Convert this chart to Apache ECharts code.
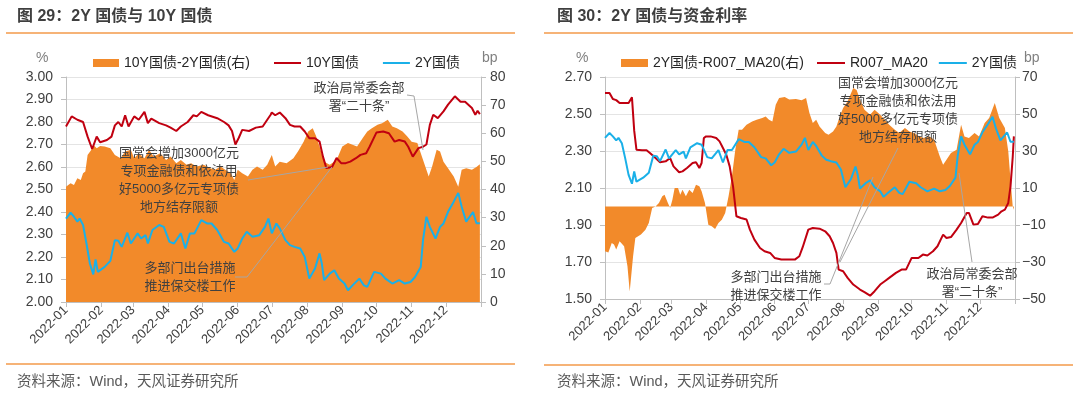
<!DOCTYPE html>
<html>
<head>
<meta charset="utf-8">
<script src="https://cdn.jsdelivr.net/npm/echarts@6/dist/echarts.min.js"></script>
<style>
html,body{margin:0;padding:0;background:#fff;}
#main{width:1080px;height:396px;}
</style>
</head>
<body>
<div id="main"></div>
<script>
var FONT = "'Liberation Sans','Noto Sans CJK SC',sans-serif";
var ORANGE = '#F28A2A', RED = '#C00010', BLUE = '#1AB0E8';
var AXIS = '#BFBFBF', GRIDC = '#E4E4E4', TXT = '#404040', RULE = '#F39A4A';

// ticks of the four y axes
var ticksL1 = [2.0, 2.1, 2.2, 2.3, 2.4, 2.5, 2.6, 2.7, 2.8, 2.9, 3.0];
var ticksL2 = [0, 10, 20, 30, 40, 50, 60, 70, 80];
var ticksR1 = [1.5, 1.7, 1.9, 2.1, 2.3, 2.5, 2.7];
var ticksR2 = [-50, -30, -10, 10, 30, 50, 70];

// 10Y government bond yield, %
var cgb10y = [
  ['2022-01-01',2.78],['2022-01-06',2.825],['2022-01-11',2.81],['2022-01-16',2.80],['2022-01-20',2.735],
  ['2022-01-24',2.68],['2022-01-28',2.735],['2022-01-31',2.71],['2022-02-06',2.72],['2022-02-10',2.735],
  ['2022-02-13',2.785],['2022-02-16',2.80],['2022-02-19',2.78],['2022-02-22',2.83],['2022-02-25',2.78],
  ['2022-03-02',2.825],['2022-03-06',2.81],['2022-03-11',2.845],['2022-03-14',2.795],['2022-03-17',2.815],
  ['2022-03-24',2.795],['2022-03-30',2.785],['2022-04-03',2.775],['2022-04-08',2.76],['2022-04-12',2.78],
  ['2022-04-18',2.80],['2022-04-23',2.83],['2022-04-26',2.825],['2022-04-30',2.845],['2022-05-06',2.83],
  ['2022-05-14',2.817],['2022-05-20',2.80],['2022-05-24',2.785],['2022-05-27',2.76],['2022-05-30',2.70],
  ['2022-06-02',2.73],['2022-06-05',2.765],['2022-06-11',2.76],['2022-06-17',2.775],['2022-06-23',2.78],
  ['2022-06-27',2.81],['2022-06-30',2.832],['2022-07-01',2.842],['2022-07-04',2.83],['2022-07-08',2.842],
  ['2022-07-13',2.817],['2022-07-17',2.787],['2022-07-21',2.78],['2022-07-26',2.78],['2022-07-30',2.758],
  ['2022-08-03',2.728],['2022-08-08',2.728],['2022-08-12',2.713],['2022-08-15',2.646],['2022-08-18',2.595],
  ['2022-08-23',2.60],['2022-08-27',2.64],['2022-08-31',2.617],['2022-09-04',2.617],['2022-09-08',2.624],
  ['2022-09-13',2.639],['2022-09-17',2.654],['2022-09-22',2.661],['2022-09-25',2.69],['2022-10-01',2.753],
  ['2022-10-07',2.758],['2022-10-12',2.75],['2022-10-17',2.713],['2022-10-21',2.72],['2022-10-26',2.713],
  ['2022-10-29',2.69],['2022-11-02',2.646],['2022-11-07',2.684],['2022-11-11',2.69],['2022-11-14',2.70],
  ['2022-11-17',2.787],['2022-11-20',2.832],['2022-11-24',2.817],['2022-11-29',2.847],['2022-12-03',2.877],
  ['2022-12-09',2.914],['2022-12-14',2.89],['2022-12-18',2.89],['2022-12-24',2.862],['2022-12-27',2.832],
  ['2022-12-29',2.85],['2022-12-31',2.835]
];

// 2Y government bond yield, %
var cgb2y = [
  ['2022-01-01',2.371],['2022-01-05',2.397],['2022-01-08',2.379],['2022-01-11',2.357],['2022-01-13',2.371],
  ['2022-01-16',2.342],['2022-01-19',2.26],['2022-01-22',2.171],['2022-01-25',2.123],['2022-01-27',2.189],
  ['2022-01-29',2.134],['2022-02-04',2.156],['2022-02-09',2.183],['2022-02-13',2.275],['2022-02-16',2.272],
  ['2022-02-19',2.245],['2022-02-24',2.308],['2022-02-27',2.26],['2022-03-05',2.305],['2022-03-08',2.282],
  ['2022-03-12',2.297],['2022-03-14',2.26],['2022-03-18',2.32],['2022-03-24',2.342],['2022-03-28',2.334],
  ['2022-04-02',2.267],['2022-04-06',2.26],['2022-04-12',2.305],['2022-04-16',2.238],['2022-04-20',2.305],
  ['2022-04-24',2.305],['2022-04-30',2.364],['2022-05-05',2.349],['2022-05-09',2.349],['2022-05-14',2.32],
  ['2022-05-20',2.267],['2022-05-24',2.26],['2022-05-29',2.223],['2022-06-01',2.238],['2022-06-05',2.282],
  ['2022-06-09',2.312],['2022-06-14',2.29],['2022-06-20',2.297],['2022-06-25',2.334],['2022-06-28',2.371],
  ['2022-07-01',2.305],['2022-07-05',2.349],['2022-07-08',2.327],['2022-07-13',2.275],['2022-07-17',2.253],
  ['2022-07-21',2.245],['2022-07-26',2.238],['2022-07-30',2.20],['2022-08-03',2.104],['2022-08-08',2.149],
  ['2022-08-12',2.216],['2022-08-14',2.171],['2022-08-16',2.097],['2022-08-21',2.126],['2022-08-25',2.141],
  ['2022-08-29',2.104],['2022-09-03',2.082],['2022-09-06',2.052],['2022-09-10',2.074],['2022-09-16',2.104],
  ['2022-09-20',2.074],['2022-09-23',2.067],['2022-09-29',2.134],['2022-10-05',2.126],['2022-10-09',2.104],
  ['2022-10-15',2.082],['2022-10-21',2.097],['2022-10-26',2.082],['2022-10-31',2.089],['2022-11-04',2.111],
  ['2022-11-09',2.156],['2022-11-11',2.275],['2022-11-14',2.379],['2022-11-17',2.334],['2022-11-22',2.282],
  ['2022-11-26',2.334],['2022-11-29',2.349],['2022-12-03',2.401],['2022-12-08',2.446],['2022-12-12',2.485],
  ['2022-12-15',2.423],['2022-12-19',2.357],['2022-12-22',2.379],['2022-12-25',2.40],['2022-12-28',2.35],
  ['2022-12-31',2.35]
];

// 10Y minus 2Y, bp
var spread10y2y = [
  ['2022-01-01',41],['2022-01-05',42.2],['2022-01-08',41.6],['2022-01-11',44],['2022-01-14',43.4],
  ['2022-01-16',45.8],['2022-01-18',46.4],['2022-01-20',52.3],['2022-01-23',54],['2022-01-25',55.9],
  ['2022-01-28',54.7],['2022-01-31',55.5],['2022-02-04',55.3],['2022-02-09',54.7],['2022-02-13',52.3],
  ['2022-02-18',51.1],['2022-02-22',53.5],['2022-02-27',54.1],['2022-03-02',51.1],['2022-03-06',52.9],
  ['2022-03-11',51.1],['2022-03-15',54.1],['2022-03-19',51.7],['2022-03-25',52.9],['2022-03-30',50.5],
  ['2022-04-03',51.7],['2022-04-08',49.3],['2022-04-12',50.5],['2022-04-17',48.8],['2022-04-21',49.3],
  ['2022-04-26',48.2],['2022-05-02',48.8],['2022-05-08',47.6],['2022-05-12',47],['2022-05-17',48.2],
  ['2022-05-21',47],['2022-05-26',45.8],['2022-05-29',43.4],['2022-06-01',47],['2022-06-05',45.8],
  ['2022-06-10',44.6],['2022-06-14',47],['2022-06-18',48.2],['2022-06-23',47],['2022-06-27',48.8],
  ['2022-07-01',52.3],['2022-07-04',48.2],['2022-07-08',49.9],['2022-07-14',49.3],['2022-07-20',51.1],
  ['2022-07-24',53.5],['2022-07-29',57],['2022-08-02',60.6],['2022-08-06',61.8],['2022-08-09',58.9],
  ['2022-08-12',55.3],['2022-08-16',49.9],['2022-08-21',48.8],['2022-08-27',50.5],['2022-09-01',55.3],
  ['2022-09-06',56.5],['2022-09-10',55.9],['2022-09-14',55.3],['2022-09-19',58.3],['2022-09-23',60.6],
  ['2022-09-27',61.8],['2022-10-02',63],['2022-10-06',63.6],['2022-10-11',64.8],['2022-10-15',62.4],
  ['2022-10-19',61.8],['2022-10-24',60.6],['2022-10-28',58.9],['2022-11-01',57],['2022-11-06',56.5],
  ['2022-11-10',51.7],['2022-11-13',48.2],['2022-11-16',44.6],['2022-11-19',48.2],['2022-11-23',54.1],
  ['2022-11-26',53.5],['2022-11-29',49.9],['2022-12-03',47.6],['2022-12-08',44.6],['2022-12-12',41],
  ['2022-12-15',47],['2022-12-19',47.6],['2022-12-24',47],['2022-12-28',48],['2022-12-31',49]
];

// R007 20-day moving average, %
var r007ma20 = [
  ['2022-01-01',2.614],['2022-01-05',2.614],['2022-01-08',2.581],['2022-01-11',2.575],['2022-01-14',2.559],
  ['2022-01-19',2.559],['2022-01-22',2.559],['2022-01-25',2.59],['2022-01-27',2.41],['2022-01-29',2.307],
  ['2022-02-03',2.304],['2022-02-07',2.304],['2022-02-10',2.289],['2022-02-15',2.262],['2022-02-19',2.239],
  ['2022-02-24',2.244],['2022-02-28',2.262],['2022-03-03',2.217],['2022-03-08',2.185],['2022-03-11',2.19],
  ['2022-03-15',2.208],['2022-03-20',2.235],['2022-03-23',2.239],['2022-03-26',2.208],['2022-03-28',2.235],
  ['2022-03-30',2.37],['2022-04-01',2.379],['2022-04-05',2.379],['2022-04-10',2.37],['2022-04-13',2.352],
  ['2022-04-16',2.316],['2022-04-19',2.28],['2022-04-22',2.217],['2022-04-25',2.109],['2022-04-28',1.947],
  ['2022-05-02',1.938],['2022-05-07',1.93],['2022-05-10',1.875],['2022-05-14',1.821],['2022-05-19',1.776],
  ['2022-05-23',1.758],['2022-05-28',1.749],['2022-06-01',1.722],['2022-06-07',1.713],['2022-06-13',1.713],
  ['2022-06-19',1.713],['2022-06-23',1.731],['2022-06-26',1.78],['2022-07-01',1.875],['2022-07-05',1.884],
  ['2022-07-11',1.88],['2022-07-16',1.866],['2022-07-20',1.839],['2022-07-23',1.803],['2022-07-26',1.749],
  ['2022-07-28',1.659],['2022-08-01',1.65],['2022-08-05',1.614],['2022-08-10',1.578],['2022-08-16',1.551],
  ['2022-08-20',1.537],['2022-08-25',1.518],['2022-08-29',1.542],['2022-09-03',1.578],['2022-09-07',1.596],
  ['2022-09-11',1.614],['2022-09-17',1.641],['2022-09-22',1.659],['2022-09-26',1.659],['2022-10-01',1.722],
  ['2022-10-07',1.722],['2022-10-11',1.74],['2022-10-15',1.735],['2022-10-20',1.758],['2022-10-24',1.785],
  ['2022-10-29',1.848],['2022-11-01',1.83],['2022-11-05',1.835],['2022-11-10',1.875],['2022-11-14',1.911],
  ['2022-11-19',1.965],['2022-11-21',1.965],['2022-11-25',1.902],['2022-11-29',1.905],['2022-12-03',1.947],
  ['2022-12-08',1.94],['2022-12-12',1.94],['2022-12-17',1.956],['2022-12-20',1.974],['2022-12-23',1.983],
  ['2022-12-26',2.019],['2022-12-28',2.109],['2022-12-30',2.27],['2022-12-31',2.379]
];

// 2Y minus R007_MA20, bp
var spread2yR007 = [
  ['2022-01-01',-24.2],['2022-01-04',-24.8],['2022-01-07',-19.7],['2022-01-09',-20.6],['2022-01-11',-23.3],
  ['2022-01-14',-18.8],['2022-01-18',-21.5],['2022-01-21',-32.3],['2022-01-23',-45.9],['2022-01-26',-26.9],
  ['2022-01-28',-17],['2022-02-02',-15.2],['2022-02-06',-12.5],['2022-02-09',-8.9],['2022-02-12',-0.8],
  ['2022-02-15',0],['2022-02-18',1.9],['2022-02-21',5.5],['2022-02-23',6.4],['2022-02-26',1.9],
  ['2022-02-28',-0.8],['2022-03-02',3.7],['2022-03-04',10],['2022-03-07',10],['2022-03-09',6.4],
  ['2022-03-11',9.1],['2022-03-14',5.5],['2022-03-17',9.1],['2022-03-20',7.3],['2022-03-23',11.8],
  ['2022-03-26',10.9],['2022-03-28',8.2],['2022-03-31',1.9],['2022-04-03',-9.8],['2022-04-06',-10.7],
  ['2022-04-09',-12.2],['2022-04-12',-8.9],['2022-04-15',-7.1],['2022-04-18',-3.5],['2022-04-21',5.5],
  ['2022-04-24',16.3],['2022-04-27',30.7],['2022-04-30',41.5],['2022-05-03',41.5],['2022-05-07',44.2],
  ['2022-05-12',46],['2022-05-16',46.9],['2022-05-21',47.8],['2022-05-24',48.7],['2022-05-27',46.9],
  ['2022-05-30',46],['2022-06-02',55],['2022-06-05',58.7],['2022-06-10',59.2],['2022-06-14',57.8],
  ['2022-06-20',58.1],['2022-06-25',57.4],['2022-06-29',58.7],['2022-07-02',50.5],['2022-07-05',45.1],
  ['2022-07-08',46.9],['2022-07-11',43.3],['2022-07-16',39.7],['2022-07-19',38.8],['2022-07-23',40.6],
  ['2022-07-26',43.3],['2022-07-29',48.7],['2022-08-01',53.2],['2022-08-05',56.9],['2022-08-10',64.1],
  ['2022-08-13',63],['2022-08-16',57.8],['2022-08-20',52.3],['2022-08-25',49.6],['2022-08-29',52.3],
  ['2022-09-03',49.6],['2022-09-07',46.9],['2022-09-11',44.2],['2022-09-16',41.5],['2022-09-20',39.7],
  ['2022-09-25',42.4],['2022-09-29',40.6],['2022-10-03',39.7],['2022-10-08',37.9],['2022-10-12',37],
  ['2022-10-17',37.9],['2022-10-21',36.1],['2022-10-26',27.1],['2022-10-29',22.6],['2022-11-01',25.3],
  ['2022-11-05',28.9],['2022-11-10',30.7],['2022-11-14',44.2],['2022-11-17',37.9],['2022-11-21',37],
  ['2022-11-26',39.7],['2022-11-30',37.9],['2022-12-05',45.1],['2022-12-09',47.8],['2022-12-14',56],
  ['2022-12-18',47.8],['2022-12-23',42.4],['2022-12-26',29.8],['2022-12-28',14.5],['2022-12-30',0],
  ['2022-12-31',-1.7]
];

// month ticks on the date axis
var monthStarts = ['2022-01-01','2022-02-01','2022-03-01','2022-04-01','2022-05-01','2022-06-01',
  '2022-07-01','2022-08-01','2022-09-01','2022-10-01','2022-11-01','2022-12-01','2023-01-01'];

function toTs(s) {
  var p = s.split('-');
  return new Date(+p[0], +p[1] - 1, +p[2]).getTime();
}
function pts(arr) {
  return arr.map(function (d) { return [toTs(d[0]), d[1]]; });
}
var monthTicks = monthStarts.map(toTs);
var monthLabels = monthTicks.slice(0, 12);

function ym(v) {
  var d = new Date(v), m = d.getMonth() + 1;
  return d.getFullYear() + '-' + (m < 10 ? '0' + m : m);
}
function fmt2(v) { return (+v).toFixed(2); }
function fmtBp(v) { return v < 0 ? '\u2212' + Math.abs(v) : String(v); }

function xAxisCfg(g) {
  return {
    type: 'value', gridIndex: g, min: monthTicks[0], max: monthTicks[12],
    axisLine: {show: true, onZero: false, lineStyle: {color: AXIS, width: 1}},
    axisTick: {show: true, customValues: monthTicks, length: 5, lineStyle: {color: AXIS}},
    axisLabel: {customValues: monthLabels, rotate: 45, fontSize: 13, color: TXT, fontFamily: FONT, margin: 6, formatter: ym},
    splitLine: {show: false}
  };
}
function yAxisCfg(g, pos, min, max, ticks, fmt, split, margin) {
  return {
    type: 'value', gridIndex: g, position: pos, min: min, max: max,
    axisLine: {show: true, lineStyle: {color: AXIS}},
    axisTick: {show: true, customValues: ticks, length: 5, lineStyle: {color: AXIS}},
    axisLabel: {customValues: ticks, fontSize: 14, color: TXT, fontFamily: FONT, margin: margin, formatter: fmt},
    splitLine: {show: split, lineStyle: {color: GRIDC, width: 1}}
  };
}

function areaSeries(name, xi, yi, data) {
  return {
    name: name, type: 'line', xAxisIndex: xi, yAxisIndex: yi, data: pts(data),
    symbol: 'none', showSymbol: false, lineStyle: {width: 0},
    itemStyle: {color: ORANGE}, areaStyle: {color: ORANGE, opacity: 1}, z: 1
  };
}
function lineSeries(name, xi, yi, data, color) {
  return {
    name: name, type: 'line', xAxisIndex: xi, yAxisIndex: yi, data: pts(data),
    symbol: 'none', showSymbol: false, lineStyle: {width: 2, color: color},
    itemStyle: {color: color}, z: 3
  };
}

function txt(x, y, s, size, color, opts) {
  var st = {text: s, x: x, y: y, fontSize: size, fontFamily: FONT, fill: color,
            align: 'left', verticalAlign: 'middle'};
  for (var k in opts) st[k] = opts[k];
  return {type: 'text', z: 100, silent: true, style: st};
}
function rule(x1, x2, y) {
  return {type: 'line', z: 100, silent: true, shape: {x1: x1, y1: y, x2: x2, y2: y},
          style: {stroke: RULE, lineWidth: 1.5}};
}
function leader(p) {
  return {type: 'polyline', z: 100, silent: true, shape: {points: p},
          style: {stroke: '#A6A6A6', lineWidth: 1, fill: null}};
}
var noteOpts = {align: 'center', verticalAlign: 'top', lineHeight: 18};

var legendText = {fontSize: 14, color: '#262626', fontFamily: FONT};

var option = {
  animation: false,
  backgroundColor: '#fff',
  grid: [
    {left: 66, top: 77, width: 415, height: 225},
    {left: 605, top: 77, width: 410, height: 222}
  ],
  legend: [
    {data: ['10Y国债-2Y国债(右)'], left: 88, top: 51, icon: 'rect', itemWidth: 26, itemHeight: 8, textStyle: legendText, selectedMode: false},
    {data: ['10Y国债', '2Y国债'], left: 269, top: 51, icon: 'rect', itemWidth: 27, itemHeight: 2, itemGap: 24, textStyle: legendText, selectedMode: false},
    {data: ['2Y国债-R007_MA20(右)'], left: 616, top: 51, icon: 'rect', itemWidth: 27, itemHeight: 8, textStyle: legendText, selectedMode: false},
    {data: ['R007_MA20', '2Y国债'], left: 812, top: 51, icon: 'rect', itemWidth: 28, itemHeight: 2, itemGap: 11, textStyle: legendText, selectedMode: false}
  ],
  xAxis: [xAxisCfg(0), xAxisCfg(1)],
  yAxis: [
    yAxisCfg(0, 'left', 2.0, 3.0, ticksL1, fmt2, true, 13),
    yAxisCfg(0, 'right', 0, 80, ticksL2, String, false, 9),
    yAxisCfg(1, 'left', 1.5, 2.7, ticksR1, fmt2, true, 13),
    yAxisCfg(1, 'right', -50, 70, ticksR2, fmtBp, false, 7)
  ],
  series: [
    areaSeries('10Y国债-2Y国债(右)', 0, 1, spread10y2y),
    lineSeries('10Y国债', 0, 0, cgb10y, RED),
    lineSeries('2Y国债', 0, 0, cgb2y, BLUE),
    areaSeries('2Y国债-R007_MA20(右)', 1, 3, spread2yR007),
    lineSeries('R007_MA20', 1, 2, r007ma20, RED),
    lineSeries('2Y国债', 1, 2, cgb2y, BLUE)
  ],
  graphic: [
    txt(17, 17, '图 29：2Y 国债与 10Y 国债', 16, '#3F3F3F', {fontWeight: 'bold'}),
    txt(557, 17, '图 30：2Y 国债与资金利率', 16, '#3F3F3F', {fontWeight: 'bold'}),
    rule(6, 515, 33), rule(544, 1073, 33),
    rule(6, 515, 364), rule(544, 1073, 365),
    txt(17, 382, '资料来源：Wind，天风证券研究所', 14.5, '#595959'),
    txt(557, 382, '资料来源：Wind，天风证券研究所', 14.5, '#595959'),
    txt(36, 58, '%', 14, '#808080'),
    txt(482, 58, 'bp', 14, '#808080'),
    txt(576, 58, '%', 14, '#808080'),
    txt(1024, 58, 'bp', 14, '#808080'),

    // left chart notes
    txt(359, 79, '政治局常委会部\n署“二十条”', 13, TXT, noteOpts),
    leader([[407, 95], [414, 96], [423, 150]]),
    txt(179, 144, '国常会增加3000亿元\n专项金融债和依法用\n好5000多亿元专项债\n地方结存限额', 13, TXT, noteOpts),
    leader([[248, 180], [328, 167]]),
    txt(190, 259, '多部门出台措施\n推进保交楼工作', 13, TXT, noteOpts),
    leader([[235, 277], [247, 277], [332, 167]]),

    // right chart notes
    txt(898, 74, '国常会增加3000亿元\n专项金融债和依法用\n好5000多亿元专项债\n地方结存限额', 13, TXT, noteOpts),
    leader([[898, 148], [840, 262]]),
    txt(776, 268, '多部门出台措施\n推进保交楼工作', 13, TXT, noteOpts),
    leader([[824, 284], [830, 284], [873, 177]]),
    txt(972, 265, '政治局常委会部\n署“二十条”', 13, TXT, noteOpts),
    leader([[972, 262], [959, 173]])
  ]
};

var chart = echarts.init(document.getElementById('main'));
chart.setOption(option);
</script>
</body>
</html>
